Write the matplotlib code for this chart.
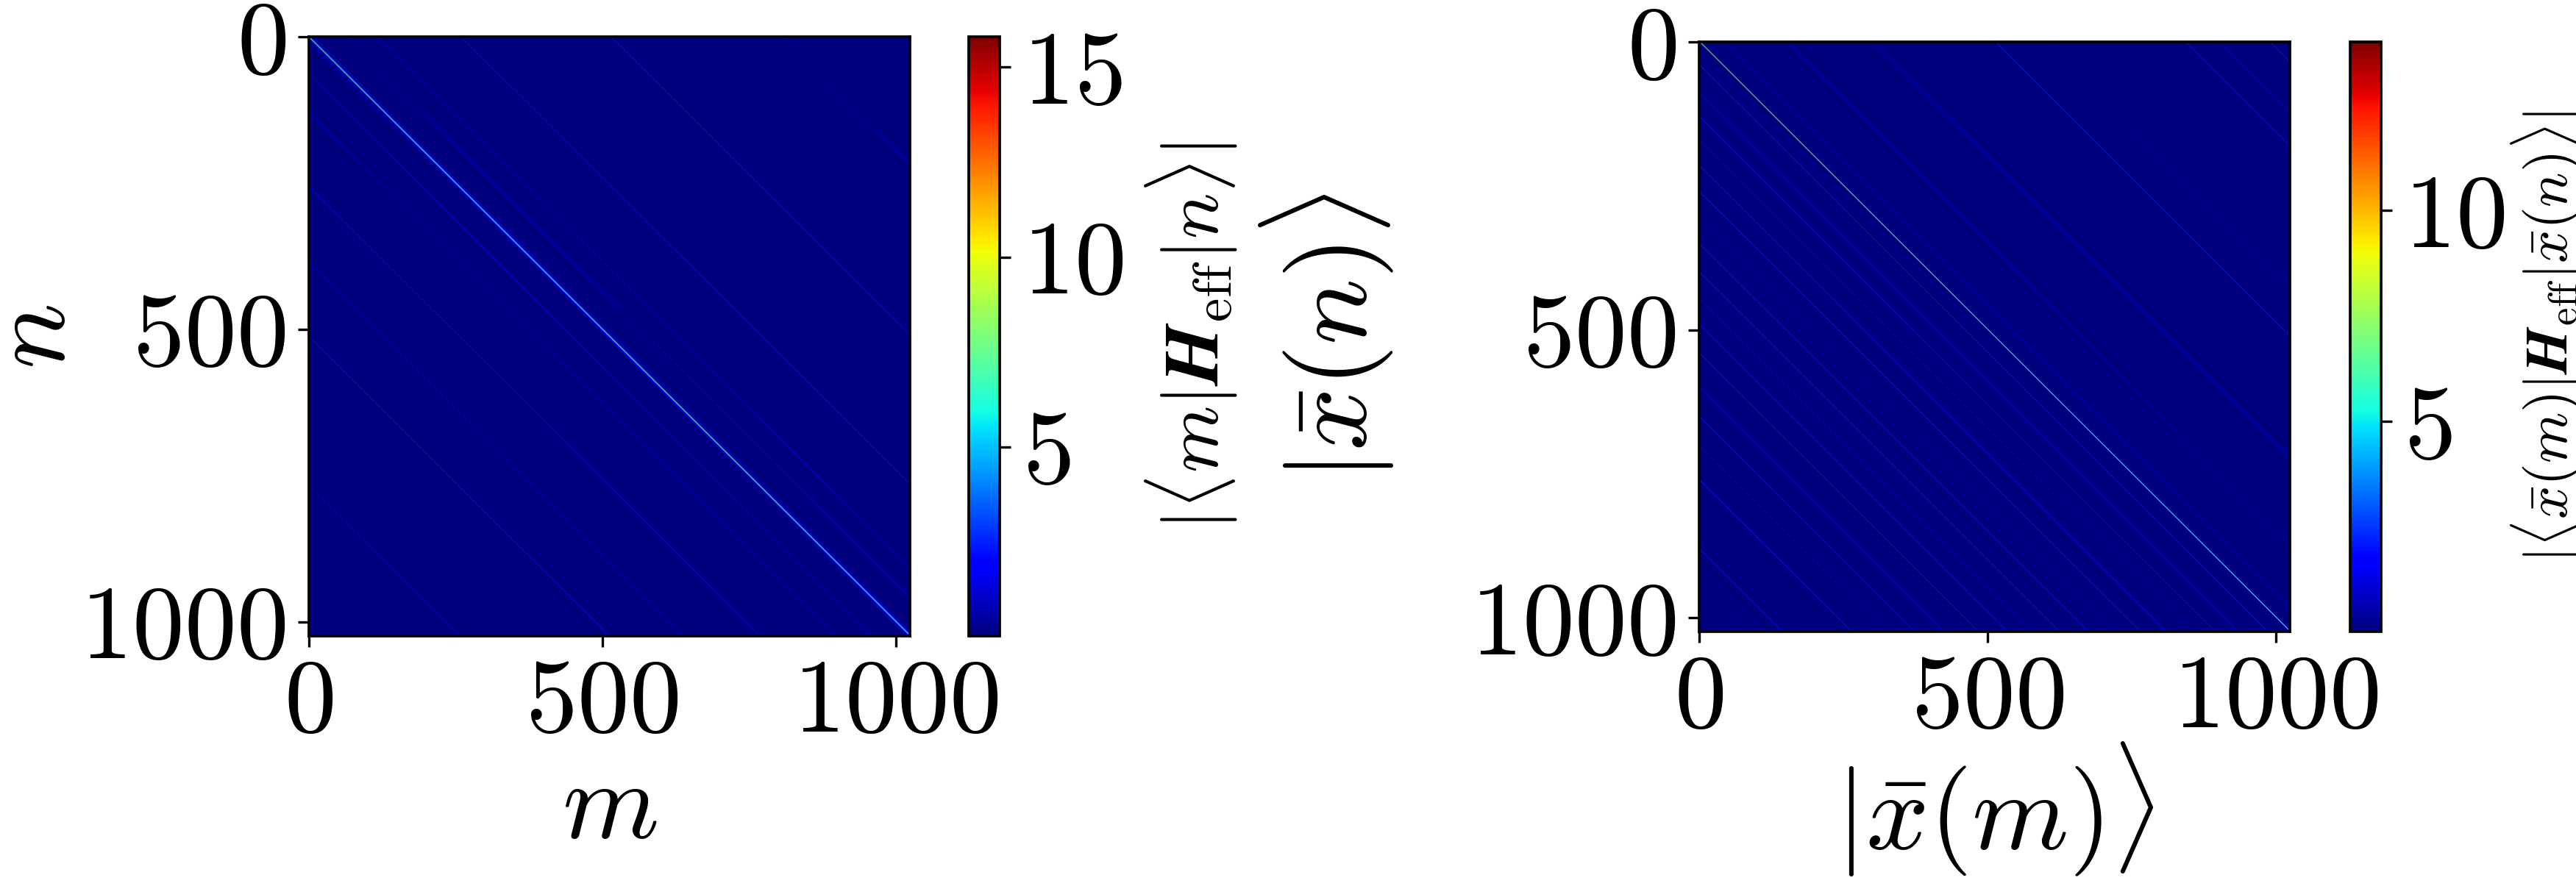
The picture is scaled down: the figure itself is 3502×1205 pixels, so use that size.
import numpy as np
import matplotlib
matplotlib.use('Agg')
import matplotlib.pyplot as plt

plt.rcParams['font.family'] = 'serif'
plt.rcParams['font.serif'] = ['cmr10']
plt.rcParams['mathtext.fontset'] = 'cm'
plt.rcParams['axes.unicode_minus'] = False
plt.rcParams['axes.formatter.use_mathtext'] = True

n_states = 1024
ticks = [0, 500, 1000]
background = 0.02

# |<m|H_eff|n>| in the computational basis
comp_diag = 9.0
comp_offsets = [-768, -512, -384, -256, -128, -64, -8, -4, -2, -1,
                1, 2, 4, 8, 64, 115, 259, 514, 805]
comp_values = [1.8, 2.4, 1.6, 2.4, 1.8, 2.0, 1.6, 2.0, 2.6, 3.5,
               3.5, 2.6, 2.0, 1.6, 1.8, 1.6, 2.4, 2.4, 1.8]
comp_clim = (0.02, 15.8)

# |<x(m)|H_eff|x(n)>| in the x-bar basis
xbar_diag = 8.0
xbar_offsets = [-940, -880, -820, -760, -700, -650, -600, -540, -490, -445,
                -400, -350, -300, -260, -215, -170, -130, -90, -40, -1,
                1, 40, 150, 300, 512, 600, 841, 900, 987]
xbar_values = [1.8, 2.2, 1.8, 2.4, 1.8, 2.2, 1.8, 2.4, 2.2, 1.8,
               2.4, 2.2, 1.8, 2.4, 2.2, 1.8, 2.2, 1.8, 2.4, 3.0,
               3.0, 1.8, 1.5, 1.5, 2.4, 1.8, 2.2, 1.8, 2.2]
xbar_clim = (0.02, 14.0)


def build_matrix(diag, offsets, values):
    H = np.full((n_states, n_states), background)
    H += np.diag(np.full(n_states, diag - background))
    for k, v in zip(offsets, values):
        H += np.diag(np.full(n_states - abs(k), v), k)
    return H


def draw_panel(fig, rect, cbar_rect, H, clim, xlabel, ylabel, xlabel_y, ylabel_x,
               cb_label, cb_x, cb_size):
    ax = fig.add_axes(rect)
    im = ax.imshow(H, cmap='jet', vmin=clim[0], vmax=clim[1], aspect='auto',
                   extent=(0, n_states, n_states, 0))
    ax.set_xticks(ticks)
    ax.set_yticks(ticks)
    ax.tick_params(labelsize=34, length=3.5, width=0.8, pad=4)
    for s in ax.spines.values():
        s.set_linewidth(0.9)
    ax.set_xlabel(xlabel, fontsize=36, va='center')
    ax.set_ylabel(ylabel, fontsize=36, va='center')
    ax.xaxis.set_label_coords(0.5, xlabel_y)
    ax.yaxis.set_label_coords(ylabel_x, 0.5)
    cax = fig.add_axes(cbar_rect)
    cb = fig.colorbar(im, cax=cax)
    cb.ax.tick_params(labelsize=34, length=3.5, width=0.8, pad=4)
    cb.outline.set_linewidth(0.9)
    fig.text(cb_x, rect[1] + rect[3] / 2, cb_label, rotation=90,
             ha='center', va='center', fontsize=cb_size)
    return ax


fig = plt.figure(figsize=(3502 / 300, 1205 / 300), dpi=300)

H_comp = build_matrix(comp_diag, comp_offsets, comp_values)
H_xbar = build_matrix(xbar_diag, xbar_offsets, xbar_values)

draw_panel(fig, [0.1199, 0.2822, 0.2333, 0.6763], [0.3761, 0.2822, 0.012, 0.6763],
           H_comp, comp_clim, r'$m$', r'$n$', -0.29, -0.453,
           r'$|\langle m|\boldsymbol{H}_{\mathrm{eff}}|n\rangle|$', 1620 / 3502, 25)
draw_panel(fig, [0.6596, 0.2871, 0.2293, 0.6656], [0.9123, 0.2871, 0.012, 0.6656],
           H_xbar, xbar_clim, r'$|\bar{x}(m)\rangle$', r'$|\bar{x}(n)\rangle$', -0.30, -0.631,
           r'$|\langle\bar{x}(m)|\boldsymbol{H}_{\mathrm{eff}}|\bar{x}(n)\rangle|$', 3462 / 3502, 19)

fig.savefig('out.png', dpi=300)
